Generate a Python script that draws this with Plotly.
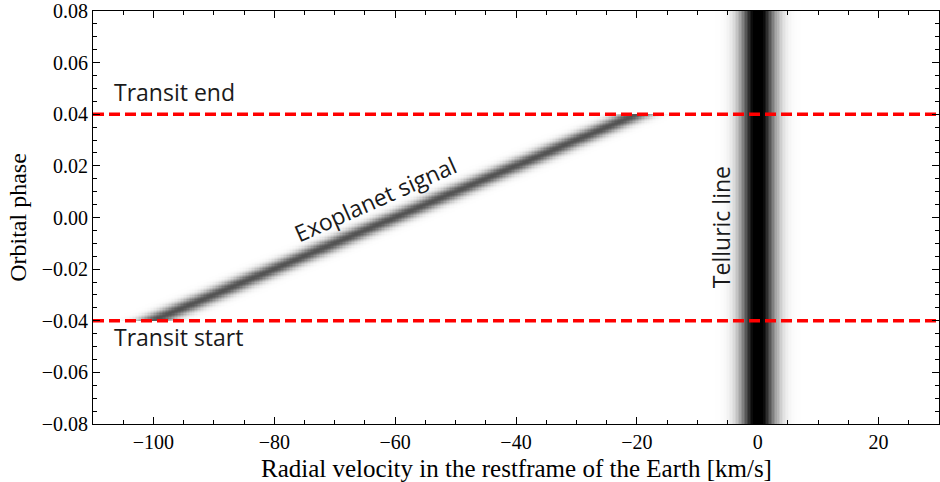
import numpy as np
import plotly.graph_objects as go

# ---- data / model parameters ----
velocity_range = [-110, 30]          # km/s
phase_range = [-0.08, 0.08]
transit_phases = [-0.04, 0.04]       # transit start / end
planet_rv = [-100, -20]              # planet RV at transit start / end (km/s)
planet_depth = 0.62
planet_sigma = 2.1                   # km/s
telluric_rv = 0.0
telluric_depth = 1.0
telluric_sigma = 2.0                 # km/s

x_ticks = [-100, -80, -60, -40, -20, 0, 20]
y_ticks = [-0.08, -0.06, -0.04, -0.02, 0.00, 0.02, 0.04, 0.06, 0.08]

# ---- build the image grid ----
vel = np.arange(velocity_range[0], velocity_range[1] + 0.001, 0.25)
phase = np.arange(phase_range[0], phase_range[1] + 1e-9, 0.0005)
V, P = np.meshgrid(vel, phase)

telluric = telluric_depth * np.exp(-0.5 * ((V - telluric_rv) / telluric_sigma) ** 2)
slope = (planet_rv[1] - planet_rv[0]) / (transit_phases[1] - transit_phases[0])
planet_center = planet_rv[0] + slope * (P - transit_phases[0])
in_transit = (P >= transit_phases[0] - 1e-9) & (P <= transit_phases[1] + 1e-9)
planet = planet_depth * np.exp(-0.5 * ((V - planet_center) / planet_sigma) ** 2) * in_transit
z = np.round(np.clip(telluric + planet, 0, 1), 3)

fig = go.Figure()
fig.add_trace(go.Heatmap(
    x=vel, y=phase, z=z,
    colorscale=[[0, "white"], [1, "black"]],
    zmin=0, zmax=0.92, showscale=False, hoverinfo="skip",
))

for ph in transit_phases:
    fig.add_trace(go.Scatter(
        x=velocity_range, y=[ph, ph], mode="lines",
        line=dict(color="#ff0000", width=3.5, dash="11px,5px"),
        showlegend=False, hoverinfo="skip",
    ))

serif = "Liberation Serif"
sans = "Open Sans"

fig.update_layout(
    width=940, height=482,
    margin=dict(l=93, r=1, t=11, b=58, autoexpand=False),
    paper_bgcolor="white", plot_bgcolor="white",
    showlegend=False,
    font=dict(family=serif, size=20, color="black"),
)

axis_common = dict(
    showline=True, linecolor="black", linewidth=1, mirror="ticks",
    ticks="inside", ticklen=7, tickwidth=1, tickcolor="black",
    showgrid=False, zeroline=False, automargin=False,
    ticklabeloverflow="allow",
    tickfont=dict(family=serif, size=20, color="black"),
)

eps = 1e-7
fig.update_xaxes(
    range=velocity_range, tickvals=x_ticks,
    minor=dict(dtick=5, tick0=0, ticks="inside", ticklen=4, tickcolor="black", showgrid=False),
    **axis_common,
)
fig.update_yaxes(
    range=[phase_range[0] - eps, phase_range[1] + eps], tickvals=y_ticks, tickformat=".2f",
    minor=dict(dtick=0.005, tick0=0, ticks="inside", ticklen=4, tickcolor="black", showgrid=False),
    title=dict(text="Orbital phase", font=dict(family=serif, size=24), standoff=8),
    **axis_common,
)

# x-axis title (placed as paper annotation for exact spacing)
fig.add_annotation(x=0.5, y=0, xref="paper", yref="paper", yshift=-44,
                   text="Radial velocity in the restframe of the Earth [km/s]",
                   showarrow=False, xanchor="center", yanchor="middle",
                   font=dict(family=serif, size=25, color="black"))

ann_font = dict(family=sans, size=23, color="#1a1a1a")
fig.add_annotation(x=-106.9, y=0.0488, xref="x", yref="y", text="Transit end",
                   showarrow=False, xanchor="left", yanchor="middle", font=ann_font)
fig.add_annotation(x=-106.9, y=-0.0463, xref="x", yref="y", text="Transit start",
                   showarrow=False, xanchor="left", yanchor="middle", font=ann_font)
fig.add_annotation(x=-63.3, y=0.0072, xref="x", yref="y", text="Exoplanet signal",
                   showarrow=False, textangle=-24, font=ann_font)
fig.add_annotation(x=-6.1, y=-0.0038, xref="x", yref="y", text="Telluric line",
                   showarrow=False, textangle=-90, font=ann_font)

fig.write_html("out.html", config={"displayModeBar": False},
               post_script="document.body.style.margin='0';")
